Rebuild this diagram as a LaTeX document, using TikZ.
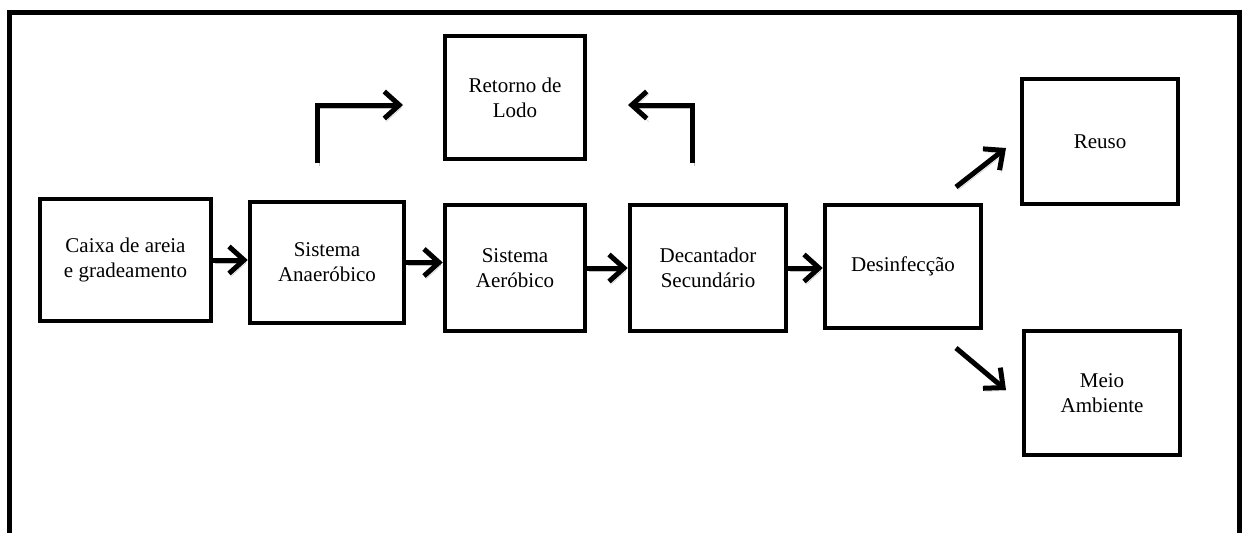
\documentclass[tikz,border=0pt]{standalone}
\usepackage{fontspec}
\setmainfont{Liberation Serif}
\usetikzlibrary{arrows.meta}

\begin{document}
\begin{tikzpicture}[x=1pt, y=-1pt,
    etapa/.style={draw, line width=4.5pt, align=center, inner sep=0pt,
                  font=\fontsize{21}{25}\selectfont},
    seta/.style={line width=5pt, line join=miter,
                 -{Straight Barb[length=15pt,width=27pt]},
                 preaction={draw=gray!50, transform canvas={shift={(2pt,-3pt)}}}}]
    \useasboundingbox (0,0) rectangle (1245,533);
    % moldura aberta embaixo
    \draw[line width=5pt] (9,533) -- (9,12.5) -- (1239.5,12.5) -- (1239.5,533);
    % etapas do tratamento
    \node[etapa, minimum width=171pt, minimum height=122pt] (caixa) at (125.5,260)
        {Caixa de areia\\e gradeamento};
    \node[etapa, minimum width=154pt, minimum height=121pt] (anaer) at (327,262.5)
        {Sistema\\Anaer\'obico};
    \node[etapa, minimum width=140pt, minimum height=126pt] (aerob) at (515,268)
        {Sistema\\Aer\'obico};
    \node[etapa, minimum width=156pt, minimum height=126pt] (decant) at (708,268)
        {Decantador\\Secund\'ario};
    \node[etapa, minimum width=156pt, minimum height=123pt] (desinf) at (903,266.5)
        {Desinfec\c{c}\~ao};
    \node[etapa, minimum width=140pt, minimum height=123pt] (lodo) at (515,97.5)
        {Retorno de\\Lodo};
    \node[etapa, minimum width=156pt, minimum height=125pt] (reuso) at (1100,141.5)
        {Reuso};
    \node[etapa, minimum width=156pt, minimum height=124pt] (meio) at (1102,393)
        {Meio\\Ambiente};
    % linha principal
    \foreach \a/\b in {caixa/anaer, anaer/aerob, aerob/decant, decant/desinf}
        \draw[seta] (\a.east) -- (\a.east -| \b.west);
    % retorno de lodo
    \coordinate (lodoA) at (317,163);
    \coordinate (lodoAfim) at (403,105);
    \coordinate (lodoB) at (692,163);
    \coordinate (lodoBfim) at (628,105);
    \draw[seta] (lodoA) |- (lodoAfim);
    \draw[seta] (lodoB) |- (lodoBfim);
    % saidas da desinfeccao
    \coordinate (saiR) at (956,187);
    \coordinate (saiRfim) at (1006,148);
    \coordinate (saiM) at (956,348);
    \coordinate (saiMfim) at (1006,390);
    \draw[seta] (saiR) -- (saiRfim);
    \draw[seta] (saiM) -- (saiMfim);
\end{tikzpicture}
\end{document}
